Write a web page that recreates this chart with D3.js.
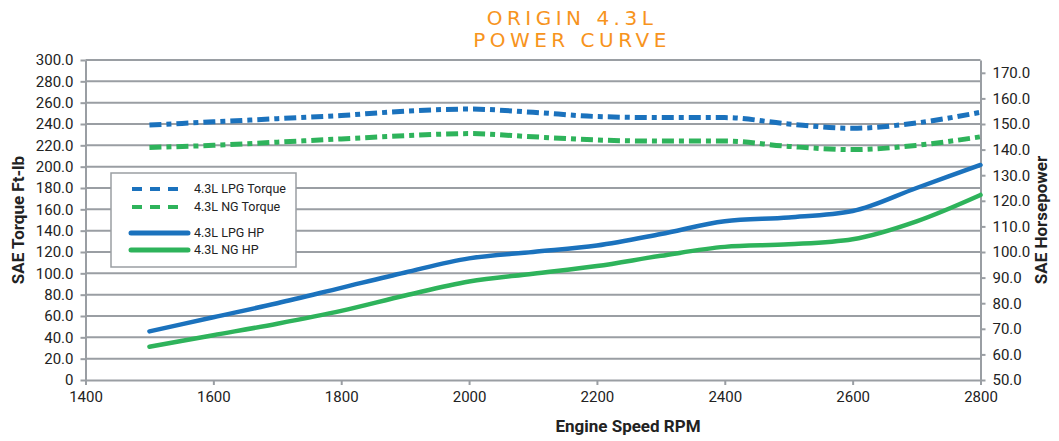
<!DOCTYPE html>
<html><head><meta charset="utf-8">
<script src="https://cdn.jsdelivr.net/npm/d3@7"></script>
<style>
body{margin:0;background:#fff;}
svg text{font-family:"Liberation Sans Narrow","Roboto","Liberation Sans",sans-serif;}
</style></head>
<body><svg id="c" width="1059" height="441"></svg>
<script>
const rpm = [1500,1600,1700,1800,1900,2000,2100,2200,2300,2400,2500,2600,2700,2800];
const lpgTorque = [239,242,245,248,252,254,251,247,246,246,240,236,241,251];
const ngTorque  = [218,220,223,226,229,231,228,225,224,224,219,216,220,228];
const lpgHP = [69,74.5,80,86,92,97.5,100,102.5,107,112,113.5,116,125,134];
const ngHP  = [63,67.5,72,77,83,88.5,91.5,94.5,98.5,102,103,105,112,122.3];
const xTicks = [1400,1600,1800,2000,2200,2400,2600,2800];
const torqueTicks = d3.range(0,301,20);
const hpTicks = d3.range(50,171,10);
const seriesNames = ["4.3L LPG Torque","4.3L NG Torque","4.3L LPG HP","4.3L NG HP"];

const blue="#1b72bd", green="#2eb35b", gray="#9a9ea3";
const svg=d3.select("#c");
const L=85.5,R=980.5,T=60,B=380;
const x=d3.scaleLinear().domain([1400,2800]).range([L,R]);
const yT=d3.scaleLinear().domain([0,300]).range([B,T]);
const yH=d3.scaleLinear().domain([50,175]).range([B,T]);

// title
[["ORIGIN 4.3L",25],["POWER CURVE",47]].forEach(([t,yy])=>{
 svg.append("text").attr("x",572).attr("y",yy).attr("text-anchor","middle")
  .attr("fill","#f7941d").style("font-family","'DejaVu Sans'").style("font-size","20px")
  .style("letter-spacing","4.5px").text(t);
});

// gridlines
svg.append("g").selectAll("line").data(torqueTicks.filter(d=>d>0)).join("line")
 .attr("x1",L).attr("x2",R).attr("y1",d=>yT(d)).attr("y2",d=>yT(d))
 .attr("stroke",gray).attr("stroke-width",2);

function styleAxis(g){
  g.select(".domain").attr("stroke",gray).attr("stroke-width",2);
  g.selectAll(".tick line").attr("stroke",gray).attr("stroke-width",2);
  g.selectAll(".tick text").attr("fill","#222").style("font-size","15px");
}
svg.append("g").attr("transform",`translate(${L},0)`)
 .call(d3.axisLeft(yT).tickValues(torqueTicks).tickSize(5).tickSizeOuter(0).tickPadding(7)
   .tickFormat(d=>d===0?"0":d3.format(".1f")(d))).call(styleAxis);
svg.append("g").attr("transform",`translate(${R},0)`)
 .call(d3.axisRight(yH).tickValues(hpTicks).tickSize(5).tickSizeOuter(0).tickPadding(7)
   .tickFormat(d3.format(".1f"))).call(styleAxis);
svg.append("g").attr("transform",`translate(0,${B})`)
 .call(d3.axisBottom(x).tickValues(xTicks).tickSize(5).tickSizeOuter(0).tickPadding(6)
   .tickFormat(d3.format("d"))).call(styleAxis);

// axis titles
svg.append("text").attr("transform","translate(24,220) rotate(-90)").attr("text-anchor","middle")
 .attr("fill","#222").style("font-size","17px").style("font-weight","bold").text("SAE Torque Ft-lb");
svg.append("text").attr("transform","translate(1047,220) rotate(-90)").attr("text-anchor","middle")
 .attr("fill","#222").style("font-size","17px").style("font-weight","bold").text("SAE Horsepower");
svg.append("text").attr("x",628).attr("y",432).attr("text-anchor","middle")
 .attr("fill","#222").style("font-size","17px").style("font-weight","bold").text("Engine Speed RPM");

// lines
const lineT=d3.line().x((d,i)=>x(rpm[i])).y(d=>yT(d)).curve(d3.curveMonotoneX);
const lineH=d3.line().x((d,i)=>x(rpm[i])).y(d=>yH(d)).curve(d3.curveMonotoneX);
const series=[
 {v:lpgTorque,f:lineT,c:blue,dash:"12,5,5,5"},
 {v:ngTorque,f:lineT,c:green,dash:"12,5,5,5"},
 {v:lpgHP,f:lineH,c:blue,dash:null},
 {v:ngHP,f:lineH,c:green,dash:null}];
svg.append("g").selectAll("path").data(series).join("path")
 .attr("d",s=>s.f(s.v)).attr("fill","none").attr("stroke",s=>s.c)
 .attr("stroke-width",s=>s.dash?5:4.5).attr("stroke-dasharray",s=>s.dash)
 .attr("stroke-linecap",s=>s.dash?"butt":"round");

// legend
const lg=svg.append("g");
lg.append("rect").attr("x",111).attr("y",173).attr("width",185).attr("height",94)
 .attr("fill","#fff").attr("stroke",gray).attr("stroke-width",1.5);
const ly=[189,207,233,250];
seriesNames.forEach((n,i)=>{
  const s=series[i];
  lg.append("line").attr("x1",s.dash?132:131).attr("x2",s.dash?185:188).attr("y1",ly[i]).attr("y2",ly[i])
   .attr("stroke",s.c).attr("stroke-width",s.dash?4:5).attr("stroke-dasharray",s.dash?"10,8":null)
   .attr("stroke-linecap",s.dash?"butt":"round");
  lg.append("text").attr("x",194).attr("y",ly[i]+4).attr("fill","#222").style("font-size","12.5px").text(n);
});
</script></body></html>
